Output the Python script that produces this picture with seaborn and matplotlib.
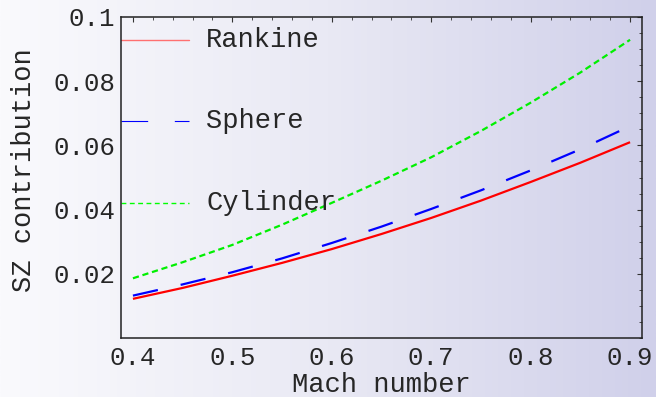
import numpy as np
import pandas as pd
import matplotlib
matplotlib.use("Agg")
import matplotlib.pyplot as plt
import seaborn as sns
from matplotlib.ticker import MultipleLocator
from matplotlib.colors import LinearSegmentedColormap

mach = [0.40, 0.45, 0.50, 0.55, 0.60, 0.65, 0.70, 0.75, 0.80, 0.85, 0.90]
rankine = [0.0122, 0.0156, 0.0194, 0.0234, 0.0277, 0.0324, 0.0374, 0.0428, 0.0486, 0.0546, 0.0610]
sphere = [0.0132, 0.0167, 0.0205, 0.0248, 0.0296, 0.0347, 0.0402, 0.0460, 0.0522, 0.0588, 0.0660]
cylinder = [0.0186, 0.0236, 0.0290, 0.0353, 0.0421, 0.0490, 0.0563, 0.0645, 0.0733, 0.0827, 0.0929]
series_names = ["Rankine", "Sphere", "Cylinder"]
x_ticks = [0.4, 0.5, 0.6, 0.7, 0.8, 0.9]
y_ticks = [0.02, 0.04, 0.06, 0.08, 0.1]
y_tick_labels = ["0.02", "0.04", "0.06", "0.08", "0.1"]

sns.set_style("white")
plt.rcParams['font.family'] = ['Liberation Mono', 'DejaVu Sans Mono']

W, H = 656, 397
fig = plt.figure(figsize=(W / 100, H / 100), dpi=100)

# background gradient
bg = fig.add_axes([0, 0, 1, 1], zorder=-10)
cmap = LinearSegmentedColormap.from_list("bg", ["#fafafd", "#e9e9f4", "#d0d0ea"])
grad = np.linspace(0, 1, 256).reshape(1, -1)
bg.imshow(grad, aspect="auto", cmap=cmap, extent=[0, 1, 0, 1])
bg.set_axis_off()

left, right, bottom, top = 121, 642, 338, 17
ax = fig.add_axes([left / W, 1 - bottom / H, (right - left) / W, (bottom - top) / H])
ax.set_facecolor("none")

df = pd.DataFrame({
    "mach": mach * 3,
    "value": rankine + sphere + cylinder,
    "model": sum([[n] * len(mach) for n in series_names], []),
})

colors = {"Rankine": "#ff0000", "Sphere": "#0000ff", "Cylinder": "#00f000"}
styles = {"Rankine": None, "Sphere": (0, (11.5, 10.5)), "Cylinder": (0, (2.8, 1.7))}
for name in series_names:
    sub = df[df["model"] == name]
    sns.lineplot(data=sub, x="mach", y="value", ax=ax, color=colors[name],
                 linewidth=1.6, legend=False, solid_capstyle="butt",
                 dash_capstyle="butt")
    ln = ax.lines[-1]
    if styles[name] is not None:
        ln.set_linestyle(styles[name])

ax.set_xlim(0.388, 0.912)
ax.set_ylim(0, 0.1)
ax.xaxis.set_minor_locator(MultipleLocator(0.02))
ax.yaxis.set_minor_locator(MultipleLocator(0.005))
ax.set_xticks(x_ticks)
ax.set_xticklabels([f"{v:.1f}" for v in x_ticks])
ax.set_yticks(y_ticks)
ax.set_yticklabels(y_tick_labels)
ax.tick_params(which="both", direction="in", top=True, right=True, color="#333333")
ax.tick_params(which="major", length=3.5, width=0.8, labelsize=18.5, pad=6)
ax.tick_params(which="minor", length=2, width=0.6)
ax.tick_params(axis="y", which="major", pad=4)
for s in ax.spines.values():
    s.set_color("#222222")
    s.set_linewidth(1.1)

ax.set_xlabel("Mach number", fontsize=19.5)
ax.set_ylabel("SZ contribution", fontsize=19.5)
ax.xaxis.set_label_coords(0.5, (bottom - 372) / (bottom - top))
ax.yaxis.set_label_coords((37 - left) / (right - left), (bottom - 170.5) / (bottom - top))

# legend keys drawn inside the axes
key_x0, key_x1 = 0.0, (189 - left) / (right - left)
text_x = (206 - left) / (right - left)
rows = [(40, "Rankine", "#ff7070", None, 1.0),
        (121, "Sphere", "#0000ff", (0, (24, 24)), 0.8),
        (202.7, "Cylinder", "#00ff00", (0, (3.5, 2.5)), 1.0)]
for ypx, label, col, ls, lw in rows:
    yf = (bottom - ypx) / (bottom - top)
    ax.plot([key_x0, key_x1], [yf, yf], transform=ax.transAxes, color=col,
            linewidth=lw, linestyle=ls if ls else "-", clip_on=False)
    ax.text(text_x, yf, label, transform=ax.transAxes, fontsize=19.5,
            va="center", ha="left")

fig.savefig("out.png", dpi=100)
